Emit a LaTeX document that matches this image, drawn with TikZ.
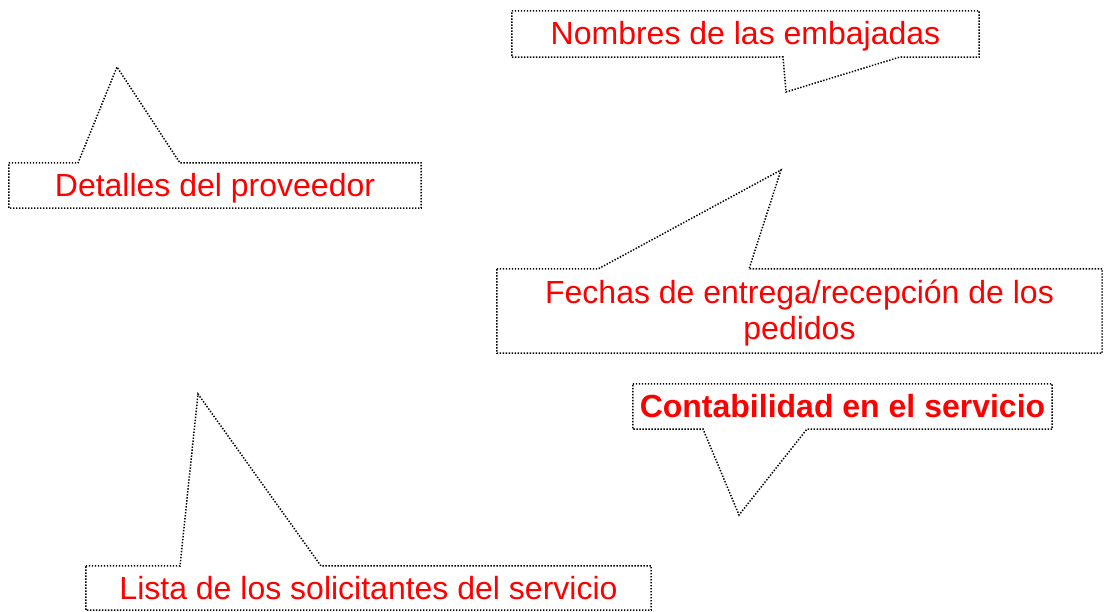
\documentclass[tikz,border=0pt]{standalone}
\usepackage{fontspec}
\setmainfont{Liberation Sans}
\usetikzlibrary{positioning}

\begin{document}
\begin{tikzpicture}[x=1pt, y=-1pt,
  callouttext/.style={inner sep=0pt, text=red, font=\fontsize{32}{36}\selectfont, text height=25pt, text depth=3pt},
  calloutline/.style={black, line width=1.5pt, dash pattern=on 1.4pt off 1.6pt, line join=miter}]
\useasboundingbox (0,0) rectangle (1104,612);

% callout boxes
\node[callouttext, minimum width=467pt, minimum height=46pt] (Embajadas) at (745.5,34) {Nombres de las embajadas};
\node[callouttext, minimum width=412pt, minimum height=45pt] (Proveedor) at (215,185.5) {Detalles del proveedor};
\node[callouttext, minimum width=605pt, minimum height=84pt, align=center, text height=61pt] (Fechas) at (799.5,311) {Fechas de entrega/recepción de los\\pedidos};
\node[callouttext, minimum width=419pt, minimum height=45pt, font=\fontsize{32}{36}\selectfont\bfseries] (Contabilidad) at (842.5,406.5) {Contabilidad en el servicio};
\node[callouttext, minimum width=565pt, minimum height=44pt] (Solicitantes) at (368.5,588) {Lista de los solicitantes del servicio};

% pointer tips
\coordinate (EmbajadasTip) at (786,92);
\coordinate (ProveedorTip) at (117,67);
\coordinate (FechasTip) at (781,170);
\coordinate (ContabilidadTip) at (739,515);
\coordinate (SolicitantesTip) at (198,394);

% outlines
\draw[calloutline] (Embajadas.north west) -- (Embajadas.north east) -- (Embajadas.south east) -- (900,57) -- (EmbajadasTip) -- (783,57) -- (Embajadas.south west) -- cycle;
\draw[calloutline] (Proveedor.north west) -- (78,163) -- (ProveedorTip) -- (180,163) -- (Proveedor.north east) -- (Proveedor.south east) -- (Proveedor.south west) -- cycle;
\draw[calloutline] (Fechas.north west) -- (598,269) -- (FechasTip) -- (749,269) -- (Fechas.north east) -- (Fechas.south east) -- (Fechas.south west) -- cycle;
\draw[calloutline] (Contabilidad.north west) -- (Contabilidad.north east) -- (Contabilidad.south east) -- (807,429) -- (ContabilidadTip) -- (703,429) -- (Contabilidad.south west) -- cycle;
\draw[calloutline] (Solicitantes.north west) -- (180,566) -- (SolicitantesTip) -- (321,566) -- (Solicitantes.north east) -- (Solicitantes.south east) -- (Solicitantes.south west) -- cycle;
\end{tikzpicture}
\end{document}
